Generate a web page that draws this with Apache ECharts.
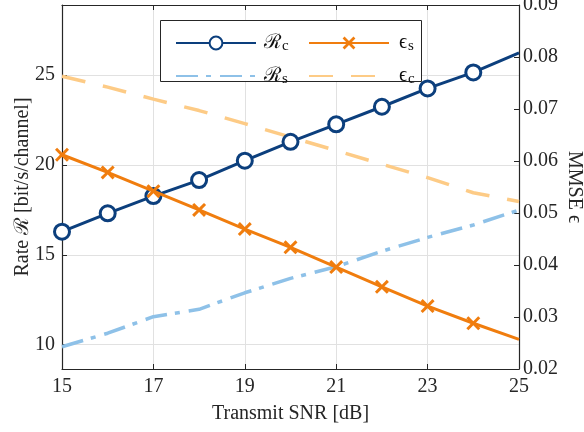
<!DOCTYPE html>
<html>
<head>
<meta charset="utf-8">
<script src="https://cdn.jsdelivr.net/npm/echarts@6/dist/echarts.min.js"></script>
<style>
html,body{margin:0;padding:0;background:#fff;}
#chart{width:584px;height:432px;}
</style>
</head>
<body>
<div id="chart"></div>
<script>
// ---- data ----
const snr = [15, 16, 17, 18, 19, 20, 21, 22, 23, 24, 25];
const rateC = [16.29, 17.31, 18.27, 19.16, 20.24, 21.29, 22.26, 23.24, 24.26, 25.15, 26.24];
const rateS = [9.89, 10.64, 11.56, 11.97, 12.89, 13.69, 14.34, 15.20, 15.97, 16.66, 17.49];
const mmseS = [0.0612, 0.0578, 0.0542, 0.0506, 0.0469, 0.0434, 0.0396, 0.0358, 0.0321, 0.0288, 0.0257];
const mmseC = [0.0763, 0.0742, 0.0719, 0.0697, 0.0672, 0.0646, 0.0620, 0.0594, 0.0568, 0.0539, 0.0522];
const xTicks = [15, 17, 19, 21, 23, 25];
const leftTicks = [10, 15, 20, 25];
const rightTicks = [0.02, 0.03, 0.04, 0.05, 0.06, 0.07, 0.08, 0.09];
const xName = 'Transmit SNR [dB]';
const leftName = 'Rate ℛ [bit/s/channel]';
const rightName = 'MMSE ϵ';

// ---- styling ----
const FONT = '"Liberation Serif", "DejaVu Serif", serif';
const AX = '#262626';
const cBlue = '#0C3F7D', cOrange = '#F07D0E', cLBlue = '#8EC1E8', cLOrange = '#FDCB86';
const xMark = 'path://M0,3 L3,0 L10,7 L17,0 L20,3 L13,10 L20,17 L17,20 L10,13 L3,20 L0,17 L7,10 Z';

function pairs(ys, noLastMarker) {
  return snr.map((x, i) => {
    const it = { value: [x, ys[i]] };
    if (noLastMarker && i === snr.length - 1) it.symbol = 'none';
    return it;
  });
}

const legendNames = {
  Rc: '{r|ℛ}{s|c}', Rs: '{r|ℛ}{s|s}', Es: '{r|ϵ}{s|s}', Ec: '{r|ϵ}{s|c}'
};
const legendRich = {
  r: { fontFamily: FONT, fontSize: 20, color: '#111', lineHeight: 22 },
  s: { fontFamily: FONT, fontSize: 15, color: '#111', lineHeight: 22, padding: [7, 0, 0, 1] }
};
const hiddenSym = { color: 'rgba(0,0,0,0)', borderColor: 'rgba(0,0,0,0)', borderWidth: 0, opacity: 0 };

const chart = echarts.init(document.getElementById('chart'), null, { renderer: 'canvas' });
chart.setOption({
  animation: false,
  backgroundColor: '#fff',
  grid: { left: 62, right: 65, top: 5, bottom: 63, containLabel: false, outerBoundsMode: 'none' },
  graphic: [{
    type: 'rect', z: 50,
    shape: { x: 160.5, y: 20.5, width: 261, height: 61 },
    style: { fill: '#fff', stroke: AX, lineWidth: 1 }
  }],
  legend: [
    {
      z: 60, orient: 'vertical', left: 170, top: 27, itemWidth: 80, itemHeight: 16, itemGap: 11,
      data: ['Rc', { name: 'Rs', itemStyle: hiddenSym }], formatter: n => legendNames[n],
      textStyle: { rich: legendRich, padding: [0, 0, 0, 3] }
    },
    {
      z: 60, orient: 'vertical', left: 303, top: 27, itemWidth: 80, itemHeight: 16, itemGap: 11,
      data: ['Es', { name: 'Ec', itemStyle: hiddenSym }], formatter: n => legendNames[n],
      textStyle: { rich: legendRich, padding: [0, 0, 0, 5] }
    }
  ],
  xAxis: [
    {
      type: 'value', min: 15, max: 25, position: 'bottom',
      name: xName, nameLocation: 'middle', nameGap: 35,
      nameTextStyle: { fontFamily: FONT, fontSize: 20, color: '#262626' },
      axisLine: { show: true, onZero: false, lineStyle: { color: AX, width: 1.2 } },
      axisTick: { show: true, inside: true, length: 5, customValues: xTicks, lineStyle: { color: AX } },
      axisLabel: { customValues: xTicks, fontFamily: FONT, fontSize: 20, color: '#262626', margin: 8 },
      splitLine: { show: true, lineStyle: { color: '#e1e1e1', width: 1 } }
    },
    {
      type: 'value', min: 15, max: 25, position: 'top',
      axisLine: { show: true, onZero: false, lineStyle: { color: AX, width: 1.2 } },
      axisTick: { show: true, inside: true, length: 5, customValues: xTicks, lineStyle: { color: AX } },
      axisLabel: { show: false, customValues: xTicks },
      splitLine: { show: false }
    }
  ],
  yAxis: [
    {
      type: 'value', min: 8.65, max: 28.9, position: 'left',
      name: leftName, nameLocation: 'middle', nameGap: 29, nameMoveOverlap: false,
      nameTextStyle: { fontFamily: FONT, fontSize: 20, color: '#262626' },
      axisLine: { show: true, onZero: false, lineStyle: { color: AX, width: 1.2 } },
      axisTick: { show: true, inside: true, length: 5, customValues: leftTicks, lineStyle: { color: AX } },
      axisLabel: { customValues: leftTicks, fontFamily: FONT, fontSize: 20, color: '#262626', margin: 7 },
      splitLine: { show: true, lineStyle: { color: '#e1e1e1', width: 1 } }
    },
    {
      type: 'value', min: 0.02, max: 0.09, position: 'right',
      name: rightName, nameLocation: 'middle', nameGap: 45, nameRotate: -90, nameMoveOverlap: false,
      nameTextStyle: { fontFamily: FONT, fontSize: 20, color: '#262626' },
      axisLine: { show: true, onZero: false, lineStyle: { color: AX, width: 1.2 } },
      axisTick: { show: true, inside: true, length: 5, customValues: rightTicks, lineStyle: { color: AX } },
      axisLabel: { customValues: rightTicks, formatter: v => v.toFixed(2), fontFamily: FONT, fontSize: 20, color: '#262626', margin: 4 },
      splitLine: { show: false }
    }
  ],
  series: [
    {
      name: 'Rs', type: 'line', xAxisIndex: 0, yAxisIndex: 0, data: pairs(rateS), z: 2,
      symbol: 'none', clip: false,
      lineStyle: { color: cLBlue, width: 3.5, type: [22, 8, 5, 9], cap: 'butt' },
      itemStyle: { color: cLBlue }
    },
    {
      name: 'Ec', type: 'line', xAxisIndex: 0, yAxisIndex: 1, data: pairs(mmseC), z: 2,
      symbol: 'none', clip: false,
      lineStyle: { color: cLOrange, width: 3.5, type: [24, 18], cap: 'butt' },
      itemStyle: { color: cLOrange }
    },
    {
      name: 'Rc', type: 'line', xAxisIndex: 0, yAxisIndex: 0, data: pairs(rateC, true), z: 3,
      symbol: 'circle', symbolSize: 15, showAllSymbol: true, clip: false,
      lineStyle: { color: cBlue, width: 3 },
      itemStyle: { color: '#fff', borderColor: cBlue, borderWidth: 3 }
    },
    {
      name: 'Es', type: 'line', xAxisIndex: 0, yAxisIndex: 1, data: pairs(mmseS, true), z: 4,
      symbol: xMark, symbolSize: 14, showAllSymbol: true, clip: false,
      lineStyle: { color: cOrange, width: 3 },
      itemStyle: { color: cOrange, borderWidth: 0 }
    }
  ]
});
</script>
</body>
</html>
